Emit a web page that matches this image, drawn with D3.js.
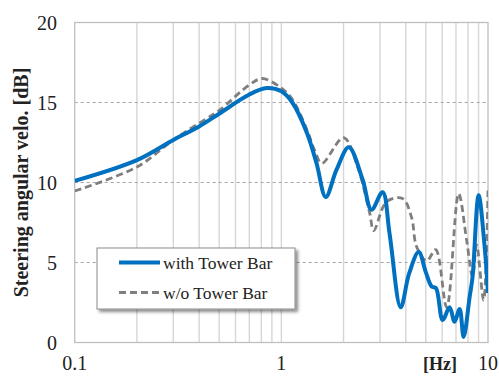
<!DOCTYPE html>
<html>
<head>
<meta charset="utf-8">
<script src="https://cdn.jsdelivr.net/npm/d3@7"></script>
<style>
  html, body { margin: 0; padding: 0; background: #fff; }
  svg { display: block; }
</style>
</head>
<body>
<svg id="chart" width="499" height="376"></svg>
<script>
// Frequency response of steering angular velocity, with and without the tower bar
const freqWith  = [0.1, 0.2, 0.3, 0.4, 0.5, 0.7, 0.85, 1.0, 1.13, 1.33, 1.48, 1.64, 1.85, 2.12, 2.47, 2.73, 3.09, 3.34, 3.78, 4.15, 4.62, 5.0, 5.34, 5.6, 6.03, 6.52, 6.89, 7.29, 7.62, 8.15, 8.42, 9.01, 9.63, 10];
const dbWith    = [10.1, 11.4, 12.66, 13.5, 14.3, 15.5, 15.9, 15.7, 15.0, 13.1, 11.2, 9.1, 10.8, 12.2, 10.2, 8.3, 9.4, 6.8, 2.2, 4.3, 5.65, 4.4, 3.5, 3.4, 1.4, 2.2, 1.3, 2.1, 0.35, 2.85, 4.1, 9.2, 6.0, 3.1];

const freqWithout = [0.1, 0.2, 0.3, 0.435, 0.5, 0.7, 0.81, 1.0, 1.13, 1.33, 1.45, 1.57, 2.0, 2.34, 2.675, 2.8, 3.23, 3.86, 4.27, 4.51, 5.05, 5.58, 6.31, 7.21, 7.88, 8.42, 8.81, 9.52, 10];
const dbWithout   = [9.47, 10.97, 12.66, 14.0, 14.5, 16.1, 16.5, 15.9, 15.2, 13.3, 12.0, 11.2, 12.8, 10.97, 8.1, 7.0, 8.8, 9.0, 7.8, 6.0, 5.1, 5.8, 2.2, 9.3, 6.4, 4.1, 6.1, 2.65, 9.5];

const xTickValues = [0.1, 1, 10];
const xTickLabels = ["0.1", "1", "10"];
const yTickValues = [0, 5, 10, 15, 20];
const seriesNames = ["with Tower Bar", "w/o Tower Bar"];

const FONT = "'Liberation Serif', 'Times New Roman', Times, 'DejaVu Serif', serif";

const svg = d3.select("#chart");
const plot = { left: 74.7, right: 488, top: 22.5, bottom: 342.5 };

const x = d3.scaleLog().domain([0.1, 10]).range([plot.left, plot.right]);
const y = d3.scaleLinear().domain([0, 20]).range([plot.bottom, plot.top]);

// drop shadow for the legend box
const defs = svg.append("defs");
const shadow = defs.append("filter").attr("id", "shadow")
  .attr("x", "-10%").attr("y", "-20%").attr("width", "130%").attr("height", "160%");
shadow.append("feDropShadow").attr("dx", 2.5).attr("dy", 2.5).attr("stdDeviation", 1.8)
  .attr("flood-color", "#000").attr("flood-opacity", 0.45);
defs.append("clipPath").attr("id", "plotClip").append("rect")
  .attr("x", plot.left).attr("y", plot.top - 5)
  .attr("width", plot.right - plot.left).attr("height", plot.bottom - plot.top + 5);

// vertical grid on every decade subdivision
const minorTicks = [];
for (const dec of [0.1, 1]) for (let k = 2; k <= 9; k++) minorTicks.push(dec * k);
minorTicks.push(1);
svg.append("g").selectAll("line").data(minorTicks).join("line")
  .attr("x1", d => x(d)).attr("x2", d => x(d))
  .attr("y1", plot.top).attr("y2", plot.bottom)
  .attr("stroke", "#d6d6d6").attr("stroke-width", 1.4);

// horizontal dotted grid
svg.append("g").selectAll("line").data([5, 10, 15]).join("line")
  .attr("x1", plot.left).attr("x2", plot.right)
  .attr("y1", d => y(d)).attr("y2", d => y(d))
  .attr("stroke", "#a6a6a6").attr("stroke-width", 1).attr("stroke-dasharray", "3,3");

// plot frame
svg.append("rect")
  .attr("x", plot.left).attr("y", plot.top)
  .attr("width", plot.right - plot.left).attr("height", plot.bottom - plot.top)
  .attr("fill", "none").attr("stroke", "#bfbfbf").attr("stroke-width", 1.3);

const line = d3.line()
  .x(d => x(d[0])).y(d => y(d[1]))
  .curve(d3.curveCatmullRom.alpha(0.5));

const curves = svg.append("g").attr("clip-path", "url(#plotClip)");
curves.append("path")
  .datum(d3.zip(freqWithout, dbWithout))
  .attr("d", line).attr("fill", "none")
  .attr("stroke", "#7f7f7f").attr("stroke-width", 2.8)
  .attr("stroke-dasharray", "7,4");
curves.append("path")
  .datum(d3.zip(freqWith, dbWith))
  .attr("d", line).attr("fill", "none")
  .attr("stroke", "#0070c0").attr("stroke-width", 4)
  .attr("stroke-linejoin", "round");

// y tick labels
svg.append("g").selectAll("text").data(yTickValues).join("text")
  .attr("x", 57).attr("y", d => y(d) + 7)
  .attr("text-anchor", "end").attr("font-size", 20)
  .attr("font-family", FONT).attr("fill", "#222")
  .text(d => d);

// x tick labels
svg.append("g").selectAll("text").data(xTickValues).join("text")
  .attr("x", d => x(d)).attr("y", 370)
  .attr("text-anchor", "middle").attr("font-size", 20)
  .attr("font-family", FONT).attr("fill", "#222")
  .text((d, i) => xTickLabels[i]);

svg.append("text")
  .attr("x", 440).attr("y", 370)
  .attr("text-anchor", "middle").attr("font-size", 18).attr("font-weight", "bold")
  .attr("font-family", FONT).attr("fill", "#222")
  .text("[Hz]");

// y axis title
svg.append("text")
  .attr("transform", "translate(28,182.5) rotate(-90)")
  .attr("text-anchor", "middle").attr("font-size", 20).attr("font-weight", "bold")
  .attr("font-family", FONT).attr("fill", "#222")
  .text("Steering angular velo. [dB]");

// legend
const legend = svg.append("g");
legend.append("rect")
  .attr("x", 97).attr("y", 248).attr("width", 198).attr("height", 61)
  .attr("fill", "#fff").attr("stroke", "#8c8c8c").attr("stroke-width", 1)
  .attr("filter", "url(#shadow)");
const legendRows = [
  { name: seriesNames[0], color: "#0070c0", width: 4, dash: null, cy: 262.5 },
  { name: seriesNames[1], color: "#7f7f7f", width: 2.8, dash: "7,4", cy: 292.5 }
];
legendRows.forEach(r => {
  legend.append("line")
    .attr("x1", 119).attr("x2", 160).attr("y1", r.cy).attr("y2", r.cy)
    .attr("stroke", r.color).attr("stroke-width", r.width)
    .attr("stroke-dasharray", r.dash);
  legend.append("text")
    .attr("x", 163).attr("y", r.cy + 6)
    .attr("font-size", 17.5)
    .attr("font-family", FONT).attr("fill", "#222")
    .text(r.name);
});
</script>
</body>
</html>
